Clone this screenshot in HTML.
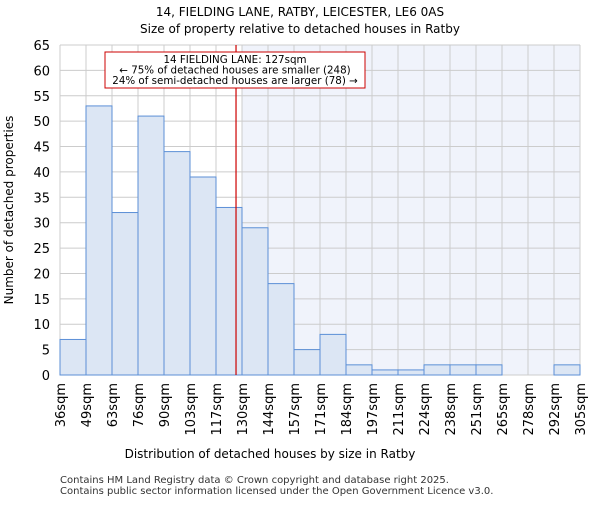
<!DOCTYPE html>
<html><head><meta charset="utf-8"><style>body{margin:0;background:#fff}svg{font-family:"DejaVu Sans","Liberation Sans",sans-serif}</style></head>
<body>
<svg id="c" width="600" height="500" xmlns="http://www.w3.org/2000/svg">
<text x="300" y="16" text-anchor="middle" font-size="12">14, FIELDING LANE, RATBY, LEICESTER, LE6 0AS</text>
<text x="300" y="33" text-anchor="middle" font-size="12">Size of property relative to detached houses in Ratby</text>
<g id="plot"></g>
<text x="270" y="458" text-anchor="middle" font-size="12">Distribution of detached houses by size in Ratby</text>
<text transform="translate(13,210) rotate(-90)" text-anchor="middle" font-size="12">Number of detached properties</text>
<text x="60" y="483" font-size="10" fill="#333">Contains HM Land Registry data © Crown copyright and database right 2025.</text>
<text x="60" y="494" font-size="10" fill="#333">Contains public sector information licensed under the Open Government Licence v3.0.</text>
</svg>
<script>
const binLabels=["36sqm","49sqm","63sqm","76sqm","90sqm","103sqm","117sqm","130sqm","144sqm","157sqm","171sqm","184sqm","197sqm","211sqm","224sqm","238sqm","251sqm","265sqm","278sqm","292sqm","305sqm"];
const counts=[7,53,32,51,44,39,33,29,18,5,8,2,1,1,2,2,2,0,0,2];
const yTicks=[0,5,10,15,20,25,30,35,40,45,50,55,60,65];
const markerBin=6.77;
const NS="http://www.w3.org/2000/svg";
const L=60,R=580,T=45,B=375,yMax=65;
const bw=(R-L)/counts.length;
const xs=i=>L+i*bw;
const ys=v=>B-(v/yMax)*(B-T);
const g=document.getElementById('plot');
function mk(t,a){const e=document.createElementNS(NS,t);for(const k in a)e.setAttribute(k,a[k]);g.appendChild(e);return e;}
let e=mk('rect',{x:L,y:T,width:R-L,height:B-T,fill:'#fff'});


e=mk('rect',{x:xs(Math.ceil(markerBin)),y:T,width:R-xs(Math.ceil(markerBin)),height:B-T,fill:'#f0f3fb'});


yTicks.forEach(v=>{
 let l=mk('line',{x1:L,x2:R,y1:ys(v),y2:ys(v),stroke:'#ccc','stroke-width':1});
 
 
 let t=mk('text',{x:L-10,y:ys(v)+5,'text-anchor':'end','font-size':13});
 t.textContent=v;
 
 
});
binLabels.forEach((s,i)=>{
 let l=mk('line',{x1:xs(i),x2:xs(i),y1:T,y2:B,stroke:'#ccc','stroke-width':1});
 
 
 let t=mk('text',{transform:`translate(${xs(i)+5},${B+8}) rotate(-90)`,'text-anchor':'end','font-size':13});
 t.textContent=s;
 
 
});
counts.forEach((v,i)=>{
 let r=mk('rect',{x:xs(i),y:ys(v),width:bw,height:B-ys(v),fill:'#dce6f4',stroke:'#5b8fd6','stroke-width':1});
 
 
});
e=mk('line',{x1:xs(markerBin),x2:xs(markerBin),y1:T,y2:B,stroke:'#cc0000','stroke-width':1.2});


e=mk('rect',{x:105,y:52,width:260,height:36,fill:'#fff',stroke:'#cc0000','stroke-width':1});


["14 FIELDING LANE: 127sqm","← 75% of detached houses are smaller (248)","24% of semi-detached houses are larger (78) →"].forEach((s,i)=>{
 let t=mk('text',{x:235,y:63+i*10.5,'text-anchor':'middle','font-size':10.3});
 t.textContent=s;
 
 
});
</script>
</body></html>
